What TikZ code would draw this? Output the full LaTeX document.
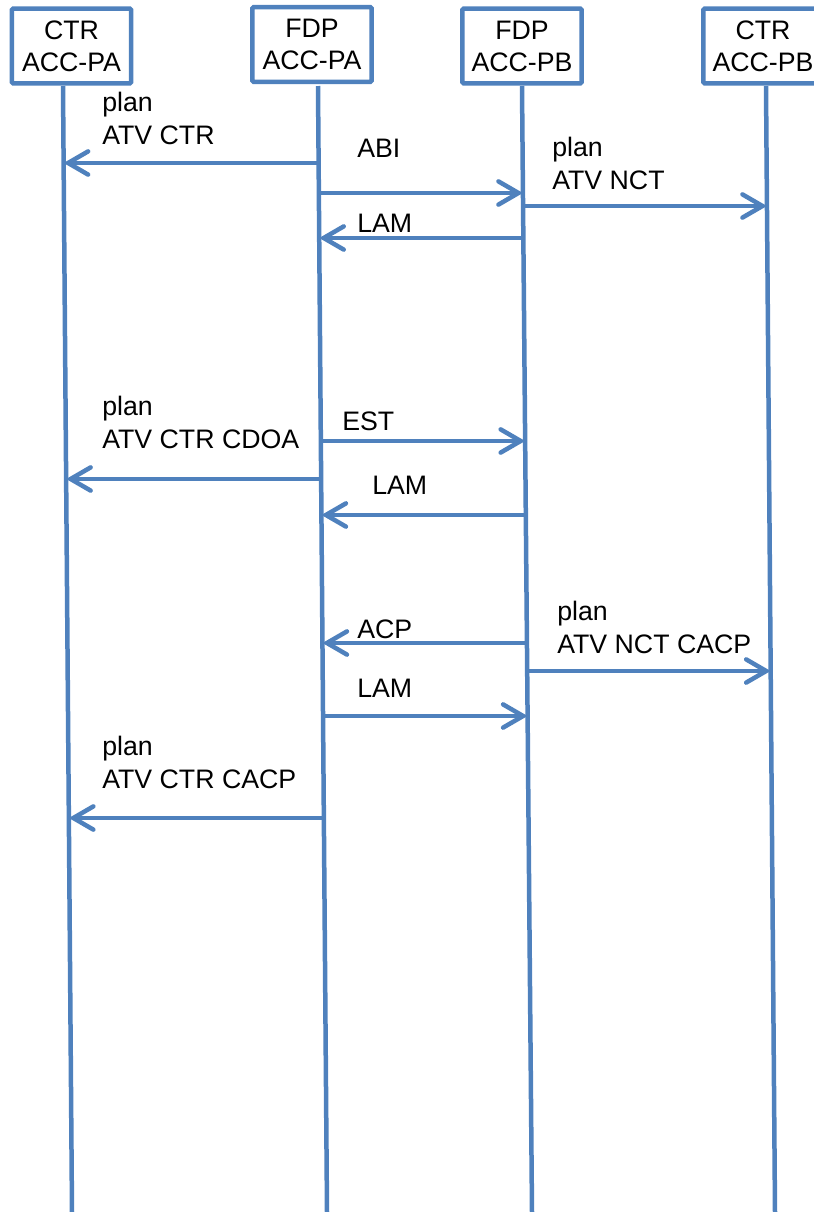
\documentclass[tikz,border=0pt]{standalone}
\usepackage{fontspec}
\setmainfont{Liberation Sans}
\usepackage{tikz}
\usetikzlibrary{arrows.meta, positioning, calc}
\definecolor{lineblue}{RGB}{79,129,189}

\begin{document}
\begin{tikzpicture}[
  x=0.025cm, y=-0.025cm,
  every node/.style={font=\fontsize{19}{22.8}\selectfont},
  actor/.style={draw=lineblue, line width=3.2pt, fill=white, rounded corners=1pt,
    align=center, minimum width=2.98cm, minimum height=1.87cm, inner sep=0pt},
  life/.style={draw=lineblue, line width=3.2pt},
  msg/.style={draw=lineblue, line width=3.2pt,
    -{Straight Barb[length=5mm, width=5.8mm, line cap=round]}},
  lbl/.style={anchor=base west, align=left, inner sep=0pt}
]
\useasboundingbox (0,0) rectangle (814,1212);
\clip (0,0) rectangle (814,1212);

% lifelines
\coordinate (t1) at (63,86);   \coordinate (b1) at (72,1212);
\coordinate (t2) at (318,86);  \coordinate (b2) at (327,1212);
\coordinate (t3) at (522,86);  \coordinate (b3) at (532,1212);
\coordinate (t4) at (766,86);  \coordinate (b4) at (775,1212);
\foreach \i in {1,...,4}
  \draw[life] (t\i) -- (b\i);

% actors
\node[actor] (ctrpa) at (71.5,46)  {CTR\\ACC-PA};
\node[actor] (fdppa) at (312,44.5) {FDP\\ACC-PA};
\node[actor] (fdppb) at (522,46)   {FDP\\ACC-PB};
\node[actor] (ctrpb) at (763,46)   {CTR\\ACC-PB};

% messages
\foreach \y/\a/\b in {163/2/1, 193/2/3, 206/3/4, 238/3/2, 441/2/3, 479/2/1,
                      515/3/2, 643/3/2, 671/3/4, 716/2/3, 818/2/1}
  \draw[msg] ($(t\a)!{(\y-86)/1126}!(b\a)$) -- ($(t\b)!{(\y-86)/1126}!(b\b)$);

% labels (anchored at the last line)
\node[lbl] (planctr)   at (102,144) {plan\\ATV CTR};
\node[lbl] (abi)       at (357,157) {ABI};
\node[lbl] (plannct)   at (552,189) {plan\\ATV NCT};
\node[lbl] (lamone)    at (357,232) {LAM};
\node[lbl] (plancdoa)  at (102,448) {plan\\ATV CTR CDOA};
\node[lbl] (est)       at (342,430) {EST};
\node[lbl] (lamtwo)    at (372,494) {LAM};
\node[lbl] (acp)       at (357,638) {ACP};
\node[lbl] (plannctc)  at (557,653) {plan\\ATV NCT CACP};
\node[lbl] (lamthree)  at (357,697) {LAM};
\node[lbl] (planctrc)  at (102,788) {plan\\ATV CTR CACP};

\end{tikzpicture}
\end{document}
